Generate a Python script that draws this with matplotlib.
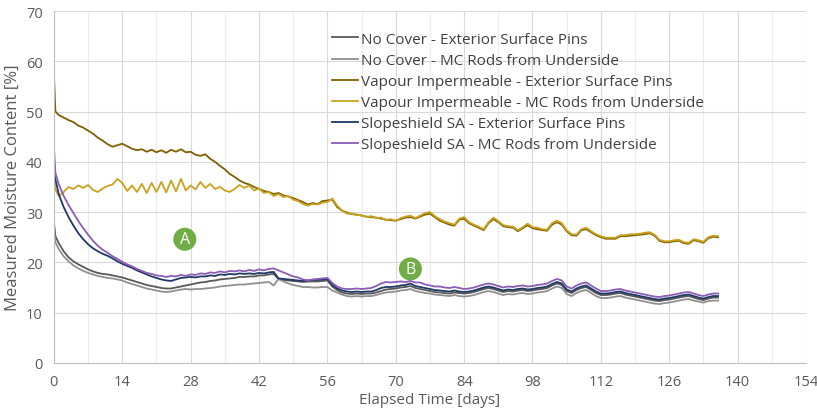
import matplotlib.pyplot as plt
from matplotlib.ticker import MultipleLocator

plt.rcParams['font.family'] = ['Open Sans', 'DejaVu Sans']

# elapsed time [days]
days = [0, 0.3] + list(range(1, 137))

nc_pins = [28.0, 25.2,
           23.8, 22.2, 21.0, 20.2, 19.6, 19.1, 18.6, 18.2, 17.9, 17.7,
           17.6, 17.4, 17.2, 17.0, 16.7, 16.4, 16.1, 15.8, 15.5, 15.3,
           15.1, 14.9, 14.8, 14.8, 15.0, 15.2, 15.4, 15.6, 15.8, 16.0,
           16.1, 16.3, 16.4, 16.6, 16.7, 16.8, 16.9, 17.1, 17.1, 17.2,
           17.2, 17.4, 17.4, 17.6, 17.7, 16.7, 16.5, 16.4, 16.3, 16.2,
           16.1, 16.2, 16.2, 16.2, 16.3, 16.4, 15.2, 14.5, 14.0, 13.8,
           13.7, 13.8, 13.7, 13.8, 13.8, 14.0, 14.3, 14.6, 14.7, 14.8,
           15.0, 15.1, 15.3, 14.9, 14.7, 14.5, 14.3, 14.1, 14.0, 13.9,
           13.8, 14.0, 13.9, 13.8, 13.9, 14.1, 14.4, 14.7, 14.9, 14.7,
           14.4, 14.1, 14.3, 14.2, 14.4, 14.5, 14.3, 14.4, 14.6, 14.7,
           14.9, 15.4, 15.8, 15.5, 14.3, 13.9, 14.5, 14.9, 15.1, 14.5,
           13.9, 13.5, 13.5, 13.6, 13.8, 13.9, 13.6, 13.4, 13.2, 13.0,
           12.8, 12.6, 12.4, 12.3, 12.5, 12.6, 12.8, 13.0, 13.2, 13.3,
           13.0, 12.7, 12.5, 12.8, 13.0, 13.0]

nc_rods = [26.0, 24.0,
           22.6, 21.2, 20.2, 19.4, 18.8, 18.3, 17.9, 17.6, 17.3, 17.1,
           16.9, 16.8, 16.6, 16.4, 16.0, 15.7, 15.4, 15.1, 14.8, 14.6,
           14.4, 14.2, 14.1, 14.2, 14.4, 14.6, 14.7, 14.6, 14.7, 14.7,
           14.8, 14.9, 15.0, 15.2, 15.3, 15.4, 15.5, 15.6, 15.6, 15.7,
           15.8, 15.9, 16.0, 16.1, 15.4, 16.7, 16.2, 15.8, 15.5, 15.3,
           15.1, 15.1, 15.0, 15.0, 15.1, 15.1, 14.4, 14.0, 13.6, 13.3,
           13.2, 13.3, 13.2, 13.3, 13.3, 13.5, 13.8, 14.0, 14.1, 14.2,
           14.4, 14.5, 14.7, 14.3, 14.1, 13.9, 13.8, 13.6, 13.5, 13.4,
           13.3, 13.5, 13.3, 13.2, 13.3, 13.5, 13.8, 14.1, 14.3, 14.1,
           13.8, 13.5, 13.7, 13.6, 13.8, 13.9, 13.7, 13.8, 14.0, 14.1,
           14.3, 14.8, 15.2, 14.9, 13.7, 13.3, 13.9, 14.3, 14.5, 13.9,
           13.3, 12.9, 12.9, 13.0, 13.2, 13.3, 13.0, 12.8, 12.6, 12.4,
           12.2, 12.0, 11.8, 11.7, 11.9, 12.0, 12.2, 12.4, 12.6, 12.7,
           12.4, 12.2, 12.0, 12.3, 12.4, 12.4]

vi_pins = [57.5, 50.0,
           49.3, 48.8, 48.3, 47.9, 47.2, 46.8, 46.2, 45.6, 44.8, 44.2,
           43.5, 43.0, 43.3, 43.6, 43.1, 42.6, 42.3, 42.5, 42.0, 42.4,
           41.9, 42.3, 41.8, 42.4, 42.0, 42.5, 41.9, 42.0, 41.4, 41.2,
           41.5, 40.6, 40.0, 39.2, 38.5, 37.6, 37.0, 36.3, 35.8, 35.5,
           35.0, 34.6, 34.2, 34.0, 33.6, 33.8, 33.3, 33.1, 32.8, 32.4,
           32.0, 31.5, 31.8, 31.6, 32.2, 32.3, 32.5, 31.0, 30.3, 29.9,
           29.6, 29.5, 29.3, 29.1, 29.0, 28.9, 28.7, 28.5, 28.4, 28.3,
           28.6, 28.9, 29.0, 28.7, 29.1, 29.5, 29.7, 29.0, 28.3, 27.9,
           27.5, 27.3, 28.5, 28.7, 27.8, 27.3, 26.9, 26.4, 27.8, 28.6,
           28.0, 27.2, 27.0, 26.9, 26.2, 26.8, 27.4, 26.8, 26.6, 26.4,
           26.3, 27.5, 28.0, 27.5, 26.2, 25.4, 25.3, 26.4, 26.6, 26.0,
           25.4, 25.0, 24.7, 24.7, 24.7, 25.2, 25.2, 25.3, 25.4, 25.5,
           25.6, 25.8, 25.3, 24.3, 24.0, 24.0, 24.2, 24.3, 23.8, 23.7,
           24.4, 24.2, 23.9, 24.8, 25.1, 25.0]

vi_rods = [37.0, 34.5,
           33.2, 34.0, 35.0, 34.6, 35.3, 34.8, 35.4, 34.4, 34.0, 34.7,
           35.2, 35.5, 36.6, 35.8, 34.2, 35.3, 34.0, 35.6, 33.8, 35.8,
           34.0, 36.0, 33.9, 36.3, 34.1, 36.6, 34.3, 35.3, 34.5, 36.0,
           34.8, 35.6, 34.6, 35.0, 34.3, 34.0, 34.6, 35.4, 34.8, 35.3,
           34.3, 34.7, 33.8, 34.0, 33.2, 33.6, 33.0, 33.2, 32.5, 32.2,
           31.6, 31.3, 31.6, 31.5, 31.9, 32.0, 32.7, 31.3, 30.3, 29.7,
           29.7, 29.4, 29.4, 29.0, 29.2, 28.8, 28.9, 28.4, 28.6, 28.2,
           28.8, 29.1, 29.3, 28.8, 29.3, 29.8, 30.0, 29.2, 28.6, 28.1,
           27.8, 27.5, 28.7, 29.0, 28.0, 27.5, 27.1, 26.6, 28.0, 28.9,
           28.2, 27.4, 27.2, 27.1, 26.4, 27.0, 27.7, 27.0, 26.9, 26.6,
           26.5, 27.8, 28.3, 27.8, 26.4, 25.6, 25.5, 26.6, 26.9, 26.2,
           25.6, 25.2, 24.9, 24.9, 24.9, 25.4, 25.4, 25.6, 25.6, 25.7,
           25.9, 26.0, 25.5, 24.5, 24.2, 24.2, 24.4, 24.5, 24.0, 23.9,
           24.6, 24.4, 24.1, 25.0, 25.3, 25.2]

ss_pins = [38.0, 36.5,
           33.5, 31.0, 29.0, 27.3, 25.8, 24.6, 23.6, 22.8, 22.2, 21.7,
           21.3, 20.8, 20.2, 19.7, 19.3, 18.9, 18.4, 18.0, 17.6, 17.2,
           16.9, 16.6, 16.4, 16.3, 16.6, 16.9, 17.0, 17.1, 17.0, 17.2,
           17.2, 17.4, 17.3, 17.6, 17.5, 17.7, 17.6, 17.8, 17.7, 17.8,
           17.7, 17.9, 17.8, 18.0, 18.1, 16.8, 16.7, 16.6, 16.5, 16.4,
           16.3, 16.4, 16.5, 16.5, 16.6, 16.7, 15.5, 14.8, 14.4, 14.2,
           14.1, 14.2, 14.1, 14.2, 14.2, 14.5, 14.9, 15.1, 15.1, 15.2,
           15.4, 15.5, 15.8, 15.3, 15.1, 14.9, 14.7, 14.5, 14.4, 14.3,
           14.2, 14.4, 14.2, 14.1, 14.2, 14.4, 14.7, 15.0, 15.2, 15.0,
           14.7, 14.4, 14.6, 14.5, 14.7, 14.8, 14.6, 14.7, 14.9, 15.0,
           15.2, 15.7, 16.1, 15.8, 14.6, 14.2, 14.8, 15.2, 15.4, 14.8,
           14.2, 13.8, 13.8, 13.9, 14.1, 14.2, 13.9, 13.7, 13.5, 13.3,
           13.1, 12.9, 12.7, 12.6, 12.8, 12.9, 13.1, 13.3, 13.5, 13.6,
           13.3, 13.0, 12.8, 13.1, 13.3, 13.3]

ss_rods = [43.0, 37.8,
           35.5, 33.2, 31.4, 29.8, 28.2, 26.8, 25.5, 24.3, 23.3, 22.5,
           21.9, 21.2, 20.7, 20.1, 19.6, 19.2, 18.7, 18.3, 17.9, 17.7,
           17.4, 17.3, 17.1, 17.3, 17.2, 17.5, 17.3, 17.6, 17.5, 17.8,
           17.7, 18.0, 17.9, 18.2, 18.0, 18.3, 18.2, 18.4, 18.2, 18.5,
           18.3, 18.6, 18.4, 18.7, 18.8, 18.4, 18.0, 17.6, 17.2, 17.0,
           16.6, 16.4, 16.6, 16.7, 16.8, 16.9, 15.9, 15.2, 14.8, 14.7,
           14.7, 14.8, 14.7, 14.8, 14.9, 15.3, 15.8, 16.1, 16.0, 16.1,
           16.2, 16.1, 16.3, 16.0, 16.0, 15.6, 15.4, 15.2, 15.2, 15.0,
           14.9, 15.1, 14.9, 14.7, 14.8, 15.0, 15.3, 15.6, 15.8, 15.6,
           15.3, 15.0, 15.2, 15.1, 15.3, 15.4, 15.2, 15.3, 15.5, 15.6,
           15.8, 16.3, 16.7, 16.4, 15.2, 14.8, 15.4, 15.8, 16.0, 15.4,
           14.8, 14.3, 14.3, 14.4, 14.6, 14.7, 14.4, 14.2, 14.0, 13.8,
           13.6, 13.4, 13.2, 13.1, 13.3, 13.4, 13.6, 13.8, 14.0, 14.1,
           13.8, 13.5, 13.3, 13.6, 13.8, 13.8]

labels = ['No Cover - Exterior Surface Pins',
          'No Cover - MC Rods from Underside',
          'Vapour Impermeable - Exterior Surface Pins',
          'Vapour Impermeable - MC Rods from Underside',
          'Slopeshield SA - Exterior Surface Pins',
          'Slopeshield SA - MC Rods from Underside']
colors = ['#595959', '#8f8f8f', '#7f6000', '#c9a21e', '#1f3864', '#8a5cb8']

# callout markers (day, moisture)
callouts = [('A', 26.8, 24.6), ('B', 73.0, 18.7)]

fig, ax = plt.subplots(figsize=(8.17, 4.14), dpi=100)
fig.subplots_adjust(left=0.066, right=0.9865, bottom=0.121, top=0.971)

series = [nc_pins, nc_rods, vi_pins, vi_rods, ss_pins, ss_rods]
for vals, lab, col in zip(series, labels, colors):
    ax.plot(days, vals, color=col, lw=1.3, label=lab)

for txt, x, y in callouts:
    ax.text(x, y, txt, color='white', fontsize=11.5, ha='center', va='center',
            bbox=dict(boxstyle='circle,pad=0.22', fc='#70ad47', ec='none'), zorder=5)

ax.set_xlim(0, 154)
ax.set_ylim(0, 70)
ax.xaxis.set_major_locator(MultipleLocator(14))
ax.xaxis.set_minor_locator(MultipleLocator(7))
ax.yaxis.set_major_locator(MultipleLocator(10))
ax.grid(which='major', color='#d9d9d9', lw=0.8)
ax.grid(which='minor', axis='x', color='#ebebeb', lw=0.8)
ax.set_axisbelow(True)

for s in ['top', 'right']:
    ax.spines[s].set_visible(False)
for s in ['left', 'bottom']:
    ax.spines[s].set_color('#bfbfbf')
ax.tick_params(which='both', length=0, colors='#595959', labelsize=10.5, pad=8)

ax.set_xlabel('Elapsed Time [days]', fontsize=11, color='#595959', labelpad=2)
ax.set_ylabel('Measured Moisture Content [%]', fontsize=12, color='#595959', labelpad=4)

ax.legend(loc='upper left', bbox_to_anchor=(0.352, 0.98), frameon=False,
          fontsize=11, handlelength=1.7, handletextpad=0.15, labelspacing=0.4,
          labelcolor='#404040')

plt.savefig('out.png', dpi=100)
